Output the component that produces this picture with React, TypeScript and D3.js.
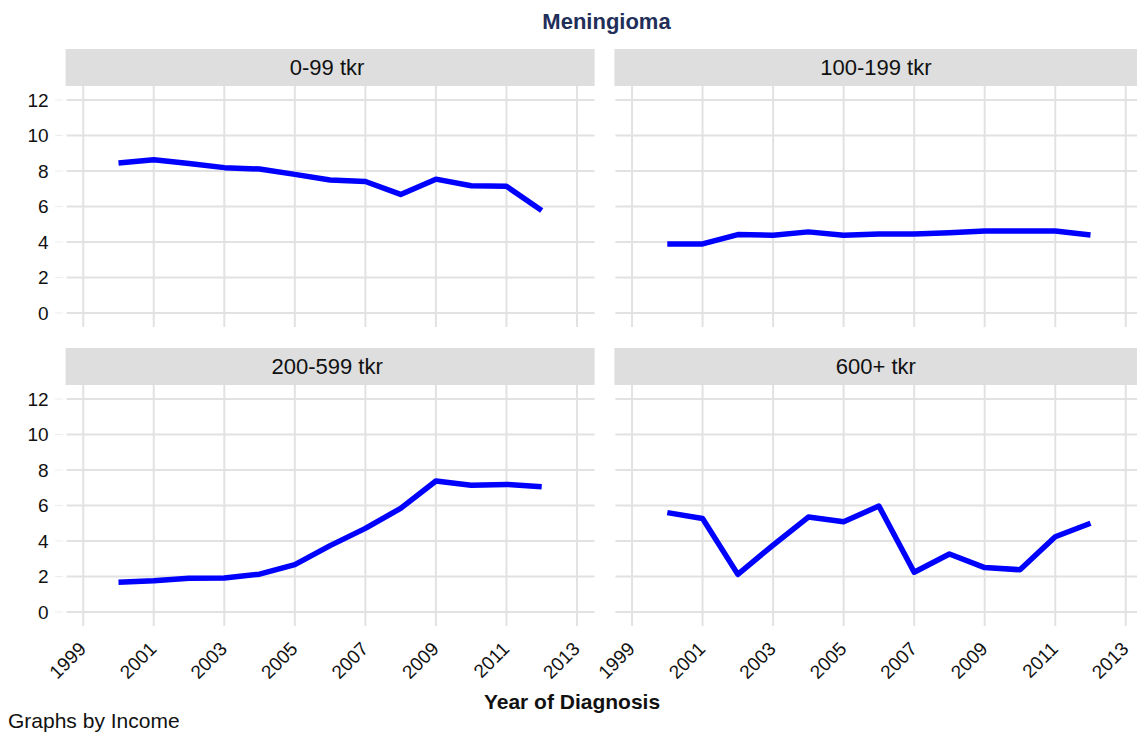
import React, { useEffect, useRef } from 'react';
import * as d3 from 'd3';

const YEARS = [2000, 2001, 2002, 2003, 2004, 2005, 2006, 2007, 2008, 2009, 2010, 2011, 2012];
const PANELS = ['0-99 tkr', '100-199 tkr', '200-599 tkr', '600+ tkr'];
const INC_0_99 = [8.45, 8.63, 8.42, 8.19, 8.11, 7.81, 7.49, 7.41, 6.68, 7.54, 7.17, 7.14, 5.78];
const INC_100_199 = [3.89, 3.89, 4.42, 4.38, 4.57, 4.38, 4.45, 4.45, 4.52, 4.62, 4.62, 4.62, 4.4];
const INC_200_599 = [1.67, 1.76, 1.9, 1.92, 2.13, 2.67, 3.74, 4.71, 5.84, 7.38, 7.14, 7.19, 7.06];
const INC_600 = [5.6, 5.27, 2.12, 3.77, 5.35, 5.08, 5.97, 2.24, 3.27, 2.5, 2.38, 4.24, 5.0];
const SERIES = [INC_0_99, INC_100_199, INC_200_599, INC_600];
const X_TICKS = [1999, 2001, 2003, 2005, 2007, 2009, 2011, 2013];
const Y_TICKS = [0, 2, 4, 6, 8, 10, 12];

const FONT = '"Liberation Sans", Arial, sans-serif';

export default function App() {
    const svgRef = useRef<SVGSVGElement>(null);

    useEffect(() => {
        if (!svgRef.current) return;
        const width = 1137;
        const height = 735;
        const svg = d3.select(svgRef.current);
        svg.selectAll('*').remove();
        svg.attr('width', width).attr('height', height);

        // panel geometry (columns / rows)
        const cols = [[65.6, 594.6], [614.4, 1143.4]];
        const rows = [
            { stripTop: 49, stripBottom: 86, plotBottom: 327 },
            { stripTop: 348, stripBottom: 385, plotBottom: 626 },
        ];
        const gridColor = '#e2e2e2';

        svg.append('text')
            .attr('x', 606.5)
            .attr('y', 29)
            .attr('text-anchor', 'middle')
            .style('font-family', FONT)
            .style('font-size', '22px')
            .style('font-weight', 'bold')
            .attr('fill', '#1f2f5a')
            .text('Meningioma');

        PANELS.forEach((name, k) => {
            const c = cols[k % 2];
            const r = rows[Math.floor(k / 2)];
            const x = d3.scaleLinear().domain([1998.5, 2013.5]).range(c);
            const y = d3.scaleLinear().domain([-0.79, 12.79]).range([r.plotBottom, r.stripBottom]);
            const g = svg.append('g');

            // strip
            g.append('rect')
                .attr('x', c[0])
                .attr('y', r.stripTop)
                .attr('width', c[1] - c[0])
                .attr('height', r.stripBottom - r.stripTop)
                .attr('fill', '#dedede');
            g.append('text')
                .attr('x', (c[0] + c[1]) / 2 - 3)
                .attr('y', (r.stripTop + r.stripBottom) / 2 + 7.9)
                .attr('text-anchor', 'middle')
                .style('font-family', FONT)
                .style('font-size', '22px')
                .attr('fill', '#111')
                .text(name);

            // grid
            g.append('g').selectAll('line')
                .data(Y_TICKS)
                .join('line')
                .attr('x1', c[0] + 1)
                .attr('x2', c[1])
                .attr('y1', d => y(d))
                .attr('y2', d => y(d))
                .attr('stroke', gridColor)
                .attr('stroke-width', 2);
            g.append('g').selectAll('line')
                .data(X_TICKS)
                .join('line')
                .attr('x1', d => x(d))
                .attr('x2', d => x(d))
                .attr('y1', r.stripBottom)
                .attr('y2', r.plotBottom)
                .attr('stroke', gridColor)
                .attr('stroke-width', 2);

            // y axis on left column
            if (k % 2 === 0) {
                g.append('g').selectAll('line')
                    .data(Y_TICKS)
                    .join('line')
                    .attr('x1', c[0] - 10.5)
                    .attr('x2', c[0] - 2.5)
                    .attr('y1', d => y(d))
                    .attr('y2', d => y(d))
                    .attr('stroke', '#ececec')
                    .attr('stroke-width', 1);
                g.append('g').selectAll('text')
                    .data(Y_TICKS)
                    .join('text')
                    .attr('x', 48.6)
                    .attr('y', d => y(d) + 6.8)
                    .attr('text-anchor', 'end')
                    .style('font-family', FONT)
                    .style('font-size', '19px')
                    .attr('fill', '#111')
                    .text(d => d);
            }

            // x labels on bottom row
            if (k >= 2) {
                g.append('g').selectAll('text')
                    .data(X_TICKS)
                    .join('text')
                    .attr('transform', d => `translate(${x(d) + 4},${r.plotBottom + 24}) rotate(-45)`)
                    .attr('text-anchor', 'end')
                    .style('font-family', FONT)
                    .style('font-size', '19px')
                    .attr('fill', '#111')
                    .text(d => d);
            }

            const line = d3.line<number>()
                .x((d, i) => x(YEARS[i]))
                .y(d => y(d));
            g.append('path')
                .attr('d', line(SERIES[k]))
                .attr('fill', 'none')
                .attr('stroke', '#0000ff')
                .attr('stroke-width', 5.5)
                .attr('stroke-linejoin', 'round');
        });

        svg.append('text')
            .attr('x', 572)
            .attr('y', 709)
            .attr('text-anchor', 'middle')
            .style('font-family', FONT)
            .style('font-size', '21px')
            .style('font-weight', 'bold')
            .attr('fill', '#111')
            .text('Year of Diagnosis');

        svg.append('text')
            .attr('x', 8)
            .attr('y', 727.5)
            .style('font-family', FONT)
            .style('font-size', '21px')
            .attr('fill', '#111')
            .text('Graphs by Income');
    }, []);

    return (
        <svg
            ref={svgRef}
            style={{ position: 'absolute', left: 0, top: 0, background: '#fff' }}
        />
    );
}
